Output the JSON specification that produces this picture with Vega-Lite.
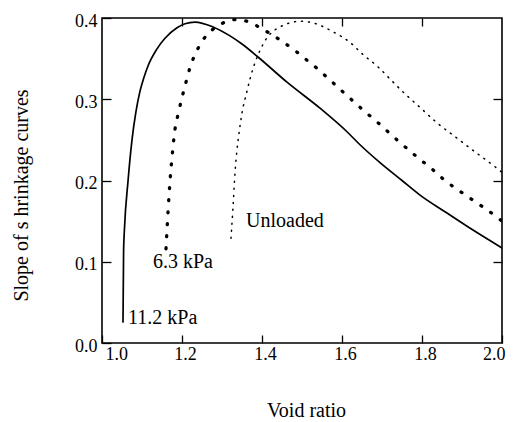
{
  "$schema": "https://vega.github.io/schema/vega-lite/v6.json",
  "width": 400,
  "height": 325,
  "autosize": {"type": "none"},
  "padding": {"left": 102, "top": 18, "right": 11, "bottom": 79},
  "background": "white",
  "config": {
    "view": {"stroke": "black", "strokeWidth": 1.6},
    "font": "Liberation Serif",
    "axis": {"grid": false, "domain": false, "tickColor": "black", "tickWidth": 1.3, "labelColor": "black", "titleColor": "black", "labelFont": "Liberation Serif", "titleFont": "Liberation Serif", "titleFontWeight": "normal"}
  },
  "datasets": {
    "curves": [
      {"series": "11.2 kPa", "e": 1.0525, "s": 0.026},
      {"series": "11.2 kPa", "e": 1.054, "s": 0.114},
      {"series": "11.2 kPa", "e": 1.056, "s": 0.139},
      {"series": "11.2 kPa", "e": 1.065, "s": 0.199},
      {"series": "11.2 kPa", "e": 1.075, "s": 0.250},
      {"series": "11.2 kPa", "e": 1.085, "s": 0.285},
      {"series": "11.2 kPa", "e": 1.095, "s": 0.310},
      {"series": "11.2 kPa", "e": 1.105, "s": 0.327},
      {"series": "11.2 kPa", "e": 1.115, "s": 0.341},
      {"series": "11.2 kPa", "e": 1.1375, "s": 0.362},
      {"series": "11.2 kPa", "e": 1.1575, "s": 0.375},
      {"series": "11.2 kPa", "e": 1.1875, "s": 0.388},
      {"series": "11.2 kPa", "e": 1.2075, "s": 0.393},
      {"series": "11.2 kPa", "e": 1.2325, "s": 0.395},
      {"series": "11.2 kPa", "e": 1.2775, "s": 0.389},
      {"series": "11.2 kPa", "e": 1.32, "s": 0.378},
      {"series": "11.2 kPa", "e": 1.35, "s": 0.368},
      {"series": "11.2 kPa", "e": 1.39, "s": 0.352},
      {"series": "11.2 kPa", "e": 1.4625, "s": 0.321},
      {"series": "11.2 kPa", "e": 1.545, "s": 0.289},
      {"series": "11.2 kPa", "e": 1.6125, "s": 0.260},
      {"series": "11.2 kPa", "e": 1.645, "s": 0.244},
      {"series": "11.2 kPa", "e": 1.695, "s": 0.222},
      {"series": "11.2 kPa", "e": 1.75, "s": 0.200},
      {"series": "11.2 kPa", "e": 1.795, "s": 0.182},
      {"series": "11.2 kPa", "e": 1.8625, "s": 0.160},
      {"series": "11.2 kPa", "e": 1.9275, "s": 0.139},
      {"series": "11.2 kPa", "e": 2.0, "s": 0.117},
      {"series": "6.3 kPa", "e": 1.16, "s": 0.116},
      {"series": "6.3 kPa", "e": 1.1625, "s": 0.139},
      {"series": "6.3 kPa", "e": 1.165, "s": 0.161},
      {"series": "6.3 kPa", "e": 1.17, "s": 0.199},
      {"series": "6.3 kPa", "e": 1.1775, "s": 0.241},
      {"series": "6.3 kPa", "e": 1.1825, "s": 0.263},
      {"series": "6.3 kPa", "e": 1.19, "s": 0.281},
      {"series": "6.3 kPa", "e": 1.20, "s": 0.302},
      {"series": "6.3 kPa", "e": 1.21, "s": 0.321},
      {"series": "6.3 kPa", "e": 1.22, "s": 0.339},
      {"series": "6.3 kPa", "e": 1.2325, "s": 0.355},
      {"series": "6.3 kPa", "e": 1.245, "s": 0.367},
      {"series": "6.3 kPa", "e": 1.26, "s": 0.378},
      {"series": "6.3 kPa", "e": 1.2825, "s": 0.388},
      {"series": "6.3 kPa", "e": 1.3075, "s": 0.395},
      {"series": "6.3 kPa", "e": 1.3275, "s": 0.398},
      {"series": "6.3 kPa", "e": 1.37, "s": 0.395},
      {"series": "6.3 kPa", "e": 1.3975, "s": 0.387},
      {"series": "6.3 kPa", "e": 1.42, "s": 0.381},
      {"series": "6.3 kPa", "e": 1.445, "s": 0.373},
      {"series": "6.3 kPa", "e": 1.4875, "s": 0.358},
      {"series": "6.3 kPa", "e": 1.5125, "s": 0.348},
      {"series": "6.3 kPa", "e": 1.5375, "s": 0.338},
      {"series": "6.3 kPa", "e": 1.5625, "s": 0.327},
      {"series": "6.3 kPa", "e": 1.6025, "s": 0.309},
      {"series": "6.3 kPa", "e": 1.6475, "s": 0.289},
      {"series": "6.3 kPa", "e": 1.6925, "s": 0.270},
      {"series": "6.3 kPa", "e": 1.7375, "s": 0.250},
      {"series": "6.3 kPa", "e": 1.785, "s": 0.230},
      {"series": "6.3 kPa", "e": 1.83, "s": 0.212},
      {"series": "6.3 kPa", "e": 1.8525, "s": 0.202},
      {"series": "6.3 kPa", "e": 1.90, "s": 0.185},
      {"series": "6.3 kPa", "e": 1.9475, "s": 0.169},
      {"series": "6.3 kPa", "e": 1.9925, "s": 0.153},
      {"series": "6.3 kPa", "e": 2.0, "s": 0.150},
      {"series": "Unloaded", "e": 1.3225, "s": 0.129},
      {"series": "Unloaded", "e": 1.3275, "s": 0.167},
      {"series": "Unloaded", "e": 1.3325, "s": 0.209},
      {"series": "Unloaded", "e": 1.3375, "s": 0.238},
      {"series": "Unloaded", "e": 1.3425, "s": 0.258},
      {"series": "Unloaded", "e": 1.35, "s": 0.283},
      {"series": "Unloaded", "e": 1.3625, "s": 0.310},
      {"series": "Unloaded", "e": 1.37, "s": 0.325},
      {"series": "Unloaded", "e": 1.3825, "s": 0.345},
      {"series": "Unloaded", "e": 1.395, "s": 0.360},
      {"series": "Unloaded", "e": 1.4075, "s": 0.372},
      {"series": "Unloaded", "e": 1.42, "s": 0.380},
      {"series": "Unloaded", "e": 1.445, "s": 0.389},
      {"series": "Unloaded", "e": 1.47, "s": 0.394},
      {"series": "Unloaded", "e": 1.495, "s": 0.396},
      {"series": "Unloaded", "e": 1.5275, "s": 0.394},
      {"series": "Unloaded", "e": 1.5775, "s": 0.383},
      {"series": "Unloaded", "e": 1.62, "s": 0.370},
      {"series": "Unloaded", "e": 1.6525, "s": 0.355},
      {"series": "Unloaded", "e": 1.6875, "s": 0.341},
      {"series": "Unloaded", "e": 1.72, "s": 0.325},
      {"series": "Unloaded", "e": 1.7525, "s": 0.309},
      {"series": "Unloaded", "e": 1.795, "s": 0.290},
      {"series": "Unloaded", "e": 1.8375, "s": 0.271},
      {"series": "Unloaded", "e": 1.8825, "s": 0.254},
      {"series": "Unloaded", "e": 1.925, "s": 0.238},
      {"series": "Unloaded", "e": 1.9875, "s": 0.215},
      {"series": "Unloaded", "e": 2.0, "s": 0.210}
    ],
    "labels": [
      {"label": "11.2 kPa", "e": 1.065, "s": 0.031},
      {"label": "6.3 kPa", "e": 1.1275, "s": 0.100},
      {"label": "Unloaded", "e": 1.36, "s": 0.150}
    ]
  },
  "layer": [
    {
      "data": {"name": "curves"},
      "transform": [{"filter": "datum.series == '11.2 kPa'"}],
      "mark": {"type": "line", "color": "black", "strokeWidth": 1.7, "strokeCap": "round", "interpolate": "monotone", "clip": true},
      "encoding": {
        "x": {"field": "e", "type": "quantitative", "scale": {"domain": [1, 2], "nice": false, "zero": false},
          "axis": {"orient": "bottom", "values": [1, 1.2, 1.4, 1.6, 1.8, 2], "format": ".1f", "tickSize": -8, "labelPadding": 10, "labelFontSize": 18, "labelOffset": 3,
            "labelAlign": {"condition": [{"test": "datum.value == 1", "value": "left"}, {"test": "datum.value == 2", "value": "right"}], "value": "center"},
            "title": "Void ratio", "titleFontSize": 20, "titleX": 204, "titleY": 73, "titleBaseline": "alphabetic"}},
        "y": {"field": "s", "type": "quantitative", "scale": {"domain": [0, 0.4], "nice": false, "zero": false},
          "axis": {"orient": "left", "values": [0, 0.1, 0.2, 0.3, 0.4], "format": ".1f", "tickSize": -9, "labelPadding": 14, "labelFontSize": 18, "labelOffset": 3,
            "title": "Slope of s hrinkage curves", "titleFontSize": 20, "titleX": -75, "titleY": 177, "titleBaseline": "alphabetic", "titleAngle": 270, "titleAlign": "center"}}
      }
    },
    {
      "data": {"name": "curves"},
      "transform": [{"filter": "datum.series == '6.3 kPa'"}],
      "mark": {"type": "line", "color": "black", "strokeWidth": 3.3, "strokeCap": "round", "strokeDash": [1, 11], "interpolate": "monotone", "clip": true},
      "encoding": {
        "x": {"field": "e", "type": "quantitative", "axis": null},
        "y": {"field": "s", "type": "quantitative", "axis": null}
      }
    },
    {
      "data": {"name": "curves"},
      "transform": [{"filter": "datum.series == 'Unloaded'"}],
      "mark": {"type": "line", "color": "black", "strokeWidth": 1.5, "strokeCap": "round", "strokeDash": [1, 6], "interpolate": "monotone", "clip": true},
      "encoding": {
        "x": {"field": "e", "type": "quantitative", "axis": null},
        "y": {"field": "s", "type": "quantitative", "axis": null}
      }
    },
    {
      "data": {"name": "labels"},
      "mark": {"type": "text", "align": "left", "baseline": "middle", "font": "Liberation Serif", "fontSize": 20, "color": "black"},
      "encoding": {
        "x": {"field": "e", "type": "quantitative",
          "axis": {"orient": "top", "values": [1.2, 1.4, 1.6, 1.8], "labels": false, "title": null, "tickSize": -8}},
        "y": {"field": "s", "type": "quantitative",
          "axis": {"orient": "right", "values": [0.1, 0.2, 0.3], "labels": false, "title": null, "tickSize": -9}},
        "text": {"field": "label"}
      }
    }
  ],
  "resolve": {"axis": {"x": "independent", "y": "independent"}}
}
